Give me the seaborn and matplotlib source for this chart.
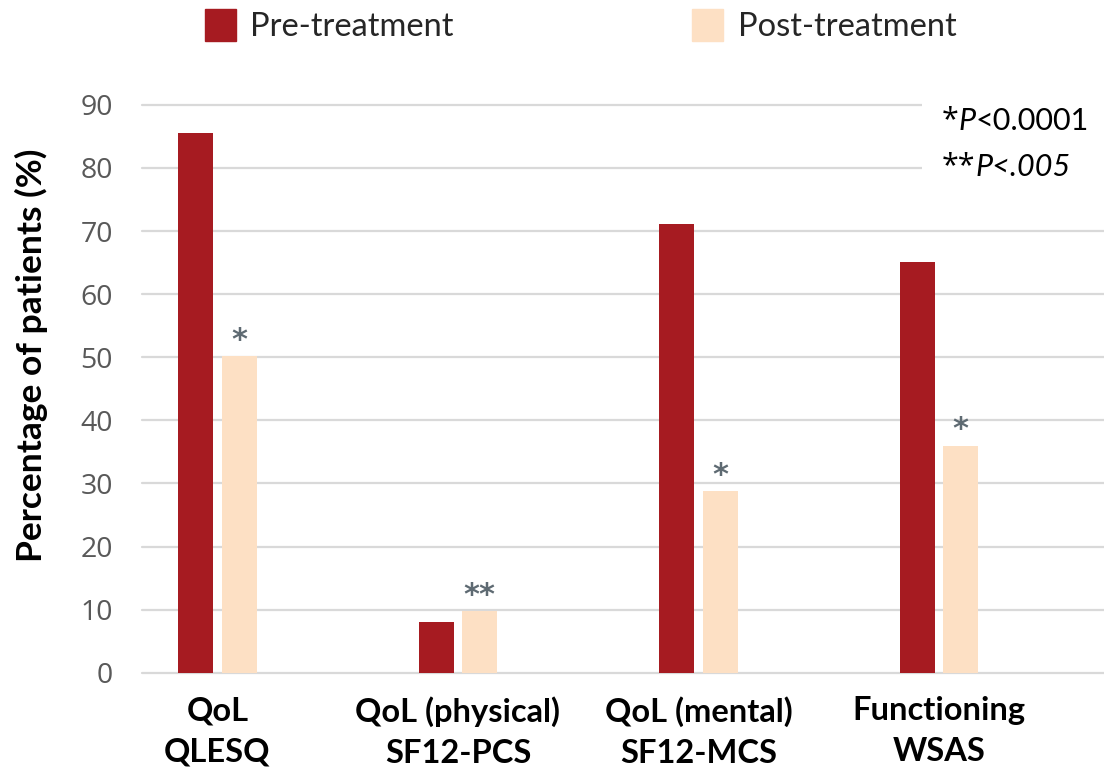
import matplotlib
matplotlib.use("Agg")
import matplotlib.pyplot as plt
import seaborn as sns
import pandas as pd

categories = ["QoL\nQLESQ", "QoL (physical)\nSF12-PCS", "QoL (mental)\nSF12-MCS", "Functioning\nWSAS"]
pre_values = [85.5, 8.1, 71.1, 65.1]
post_values = [50.2, 9.8, 28.8, 36.0]
significance = ["*", "**", "*", "*"]
series_names = ["Pre-treatment", "Post-treatment"]
y_ticks = [0, 10, 20, 30, 40, 50, 60, 70, 80, 90]

PRE_COLOR = "#A61B21"
POST_COLOR = "#FDE0C4"
GRID = "#D9D9D9"
TICK_GREY = "#595959"
STAR_GREY = "#5E6A72"

sns.set_theme(style="white")
plt.rcParams["font.family"] = ["Lato", "DejaVu Sans"]

df = pd.DataFrame({
    "category": categories * 2,
    "value": pre_values + post_values,
    "series": [series_names[0]] * len(categories) + [series_names[1]] * len(categories),
})

fig = plt.figure(figsize=(11.04, 7.69), dpi=100)
ax = fig.add_axes([0.1286, 0.1252, 0.8714, 0.7385])

sns.barplot(data=df, x="category", y="value", hue="series", order=categories,
            hue_order=series_names, palette=[PRE_COLOR, POST_COLOR],
            width=0.362, gap=0.196, ax=ax, legend=False, saturation=1,
            linewidth=0, zorder=3)

ax.set_ylim(0, 90)
ax.set_xlim(-0.314, 3.686)
ax.set_yticks(y_ticks)
ax.yaxis.grid(True, color=GRID, linewidth=1.6, zorder=0, clip_on=False)
ax.set_axisbelow(True)
for s in ax.spines.values():
    s.set_visible(False)
ax.tick_params(axis="y", length=0, pad=21, labelsize=20.5, labelcolor=TICK_GREY)
for lbl in ax.get_yticklabels():
    lbl.set_fontfamily(["Open Sans", "DejaVu Sans"])
ax.tick_params(axis="x", length=0, pad=17)
ax.set_xticks(range(len(categories)))
ax.set_xticklabels(categories, fontsize=23.5, fontweight="bold", color="black", linespacing=1.5)
ax.set_xlabel("")
ax.set_ylabel("Percentage of patients (%)", fontsize=25.5, fontweight="bold", color="black")
ax.yaxis.set_label_coords(-0.098, 0.559)

# significance marks above post-treatment bars
post_bars = ax.containers[1]
for bar, mark in zip(post_bars, significance):
    ax.text(bar.get_x() + bar.get_width() / 2, bar.get_height() + 0.2, mark,
            ha="center", va="bottom", fontsize=22, fontweight="bold", color=STAR_GREY,
            family=["DejaVu Sans"], zorder=4)

# legend
handles = [plt.Rectangle((0, 0), 1, 1, color=PRE_COLOR), plt.Rectangle((0, 0), 1, 1, color=POST_COLOR)]
fig.legend(handles, series_names, loc="center", bbox_to_anchor=(0.526, 0.967), ncol=2,
           frameon=False, fontsize=23.5, handlelength=0.95, handleheight=1.15,
           handletextpad=0.45, columnspacing=7.3)

# p-value note with white background covering the gridlines
bg = plt.Rectangle((0.835, 0.755), 0.17, 0.13, transform=fig.transFigure,
                   facecolor="white", edgecolor="none", zorder=5, clip_on=False)
ax.add_artist(bg)

def note_line(parts, x, y):
    fam0 = ["Open Sans", "DejaVu Sans"] if parts[0][0].startswith("*") else ["Lato"]
    t = ax.text(x, y, parts[0][0], fontsize=22, fontstyle=parts[0][1], color="black",
                va="baseline", ha="left", zorder=6, transform=fig.transFigure, family=fam0)
    for txt, style in parts[1:]:
        t = ax.annotate(txt, xy=(1, 0), xycoords=t, fontsize=22, fontstyle=style,
                        color="black", va="bottom", ha="left",
                        annotation_clip=False, zorder=6)

note_line([("*", "normal"), ("P", "italic"), ("<0.0001", "normal")], 0.853, 1 - 128 / 769)
note_line([("**", "normal"), ("P<.005", "italic")], 0.853, 1 - 174 / 769)

fig.savefig("out.png", dpi=100)
